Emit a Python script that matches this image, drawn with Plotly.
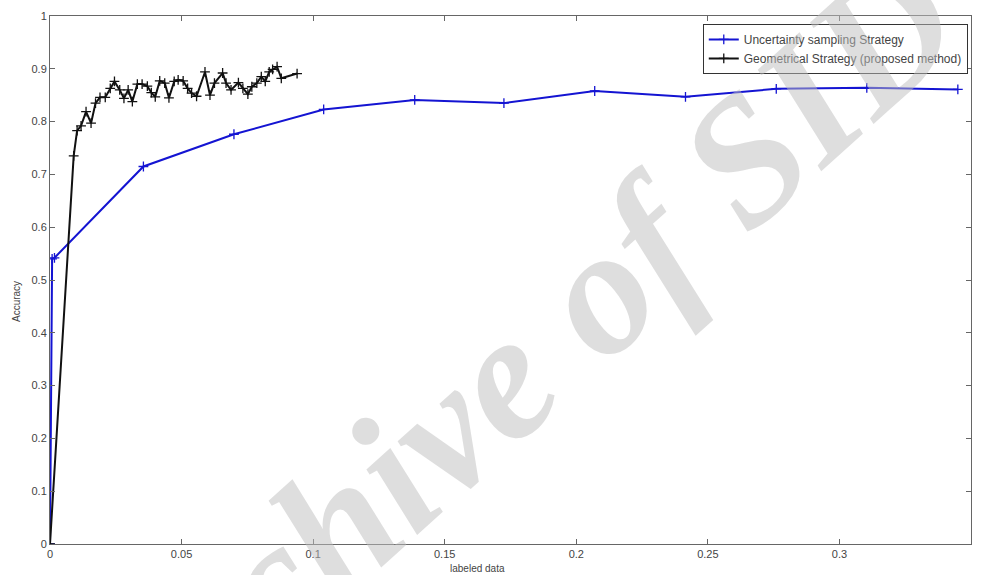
import plotly.graph_objects as go

# Uncertainty sampling strategy (blue)
blue_x = [0.0, 0.0008, 0.0017, 0.0355, 0.0699, 0.104, 0.1386, 0.1725, 0.207, 0.2415, 0.276, 0.3104, 0.345]
blue_y = [0.0, 0.540, 0.542, 0.715, 0.776, 0.823, 0.841, 0.835, 0.858, 0.847, 0.862, 0.864, 0.861]

# Geometrical strategy (black)
black_x = [0.0, 0.0090, 0.0103, 0.0118, 0.0137, 0.0156, 0.0173, 0.0190, 0.0210, 0.0229, 0.0245,
           0.0265, 0.0281, 0.0297, 0.0313, 0.0332, 0.0350, 0.0370, 0.0385, 0.0400, 0.0417,
           0.0436, 0.0452, 0.0472, 0.0487, 0.0506, 0.0523, 0.0538, 0.0557, 0.0589, 0.0608,
           0.0625, 0.0656, 0.0669, 0.0688, 0.0716, 0.0733, 0.0752, 0.0767, 0.0786, 0.0803,
           0.0818, 0.0833, 0.0846, 0.0863, 0.0879, 0.0939]
black_y = [0.0, 0.735, 0.783, 0.792, 0.819, 0.797, 0.835, 0.846, 0.846, 0.863, 0.876,
           0.860, 0.844, 0.860, 0.838, 0.871, 0.871, 0.867, 0.855, 0.847, 0.877,
           0.873, 0.845, 0.876, 0.879, 0.877, 0.863, 0.854, 0.848, 0.894, 0.850,
           0.873, 0.892, 0.873, 0.860, 0.874, 0.863, 0.852, 0.866, 0.873, 0.885,
           0.876, 0.894, 0.899, 0.904, 0.882, 0.891]

x_ticks = [0, 0.05, 0.1, 0.15, 0.2, 0.25, 0.3, 0.35]
x_tick_labels = ["0", "0.05", "0.1", "0.15", "0.2", "0.25", "0.3", "0.35"]
y_ticks = [0, 0.1, 0.2, 0.3, 0.4, 0.5, 0.6, 0.7, 0.8, 0.9, 1.0]
y_tick_labels = ["0", "0.1", "0.2", "0.3", "0.4", "0.5", "0.6", "0.7", "0.8", "0.9", "1"]

FONT = "Liberation Sans, Arial, sans-serif"

fig = go.Figure()
fig.add_trace(go.Scatter(
    x=blue_x, y=blue_y, mode="lines+markers",
    name="Uncertainty sampling Strategy",
    line=dict(color="#1414d2", width=2),
    marker=dict(symbol="cross-thin", size=7, line=dict(color="#1414d2", width=1.3)),
))
fig.add_trace(go.Scatter(
    x=black_x, y=black_y, mode="lines+markers",
    name="Geometrical Strategy (proposed method)",
    line=dict(color="#111111", width=2),
    marker=dict(symbol="cross-thin", size=7, line=dict(color="#111111", width=1.3)),
))

axis_common = dict(
    showgrid=False, zeroline=False, showline=True, linecolor="#666666", linewidth=1,
    mirror="ticks", ticks="inside", ticklen=5, tickcolor="#666666",
    tickfont=dict(family=FONT, size=11, color="#444444"),
)
fig.update_xaxes(range=[0, 0.35], tickvals=x_ticks, ticktext=x_tick_labels, **axis_common)
fig.update_yaxes(range=[0, 1], tickvals=y_ticks, ticktext=y_tick_labels, **axis_common)

fig.update_layout(
    width=981, height=575,
    margin=dict(l=50, r=10, t=16, b=31),
    plot_bgcolor="white", paper_bgcolor="white",
    showlegend=True,
    legend=dict(
        x=0.9965, y=0.985, xanchor="right", yanchor="top",
        bgcolor="white", bordercolor="#333333", borderwidth=1,
        font=dict(family=FONT, size=12, color="#444444"),
        tracegroupgap=0, itemwidth=30,
    ),
    annotations=[
        dict(text="labeled data", x=0.4637, y=-0.047, xref="paper", yref="paper",
             showarrow=False, font=dict(family=FONT, size=10, color="#444444"),
             xanchor="center", yanchor="middle"),
        dict(text="Accuracy", x=-0.037, y=0.46, xref="paper", yref="paper",
             showarrow=False, textangle=-90, font=dict(family=FONT, size=10, color="#444444"),
             xanchor="center", yanchor="middle"),
        dict(text="<b><i>Archive of SID</i></b>", x=0.5, y=0.33, xref="paper", yref="paper",
             showarrow=False, textangle=-42,
             font=dict(family="Liberation Serif, serif", size=180, color="rgba(190,190,190,0.5)"),
             xanchor="center", yanchor="middle"),
    ],
)

fig.write_html("out.html", post_script="document.body.style.margin='0';",
               config={"displayModeBar": False})
